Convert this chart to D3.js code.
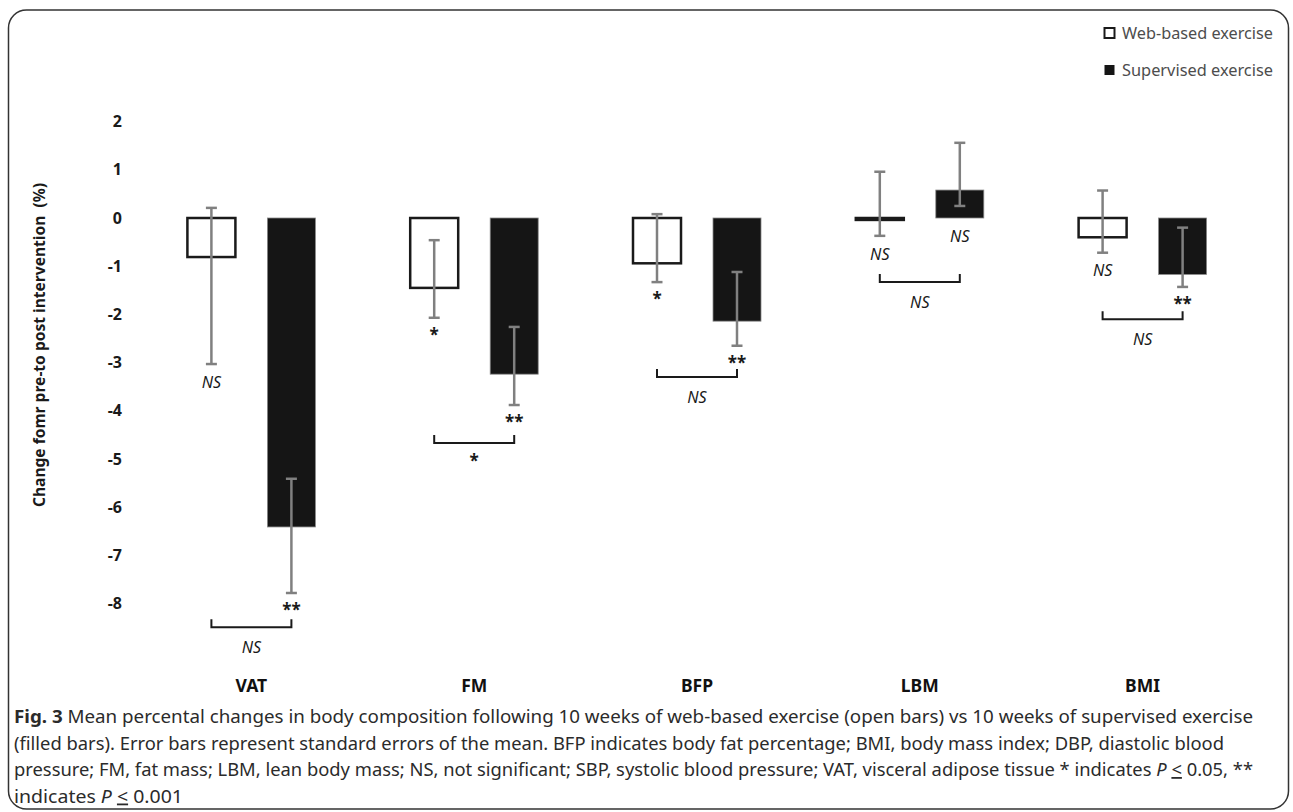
<!DOCTYPE html>
<html lang="en">

<head>
  <meta charset="utf-8">
  <title>Fig. 3</title>
  <script src="https://d3js.org/d3.v7.min.js" charset="utf-8"></script>
  <style type="text/css">
    body {
      margin: 0;
      background: #fff;
    }

    svg text {
      font-family: "Noto Sans", sans-serif;
      white-space: pre;
    }

    .tick text {
      font-size: 16px;
      font-weight: bold;
      fill: #1a1a1a;
    }
  </style>
</head>

<body>
  <script type="text/javascript">

    // values (% change, pre to post)
    var categories = ["VAT", "FM", "BFP", "LBM", "BMI"];
    var seriesNames = ["Web-based exercise", "Supervised exercise"];

    var webMean = [-0.81, -1.45, -0.94, -0.04, -0.40];
    var webErrHigh = [0.21, -0.46, 0.08, 0.96, 0.57];
    var webErrLow = [-3.03, -2.07, -1.33, -0.37, -0.72];

    var supMean = [-6.41, -3.24, -2.14, 0.58, -1.17];
    var supErrHigh = [-5.41, -2.26, -1.12, 1.56, -0.20];
    var supErrLow = [-7.78, -3.88, -2.65, 0.25, -1.43];

    var webSig = ["NS", "*", "*", "NS", "NS"];
    var supSig = ["**", "**", "**", "NS", "**"];
    var groupSig = ["NS", "*", "NS", "NS", "NS"];
    var bracketLevel = [-8.49, -4.67, -3.30, -1.33, -2.10];

    var yTicks = [2, 1, 0, -1, -2, -3, -4, -5, -6, -7, -8];
    var yTitle = "Change fomr pre-to post intervention  (%)";

    var captionLines = [
      [["Fig. 3", "b"], [" Mean percental changes in body composition following 10 weeks of web-based exercise (open bars) vs 10 weeks of supervised exercise", ""]],
      [["(filled bars). Error bars represent standard errors of the mean. BFP indicates body fat percentage; BMI, body mass index; DBP, diastolic blood", ""]],
      [["pressure; FM, fat mass; LBM, lean body mass; NS, not significant; SBP, systolic blood pressure; VAT, visceral adipose tissue * indicates ", ""], ["P", "i"], [" ", ""], ["<", "u"], [" 0.05, **", ""]],
      [["indicates ", ""], ["P", "i"], [" ", ""], ["<", "u"], [" 0.001", ""]]
    ];
    var captionWidths = [1239, 1210, 1239, 169];

    var W = 1293, H = 812;

    var svg = d3.select("body").append("svg")
      .attr("width", W)
      .attr("height", H);

    // frame
    svg.append("rect")
      .attr("x", 8.5).attr("y", 10)
      .attr("width", 1280).attr("height", 799)
      .attr("rx", 18)
      .attr("fill", "none")
      .attr("stroke", "#333")
      .attr("stroke-width", 1.5);

    var x = d3.scaleBand()
      .domain(categories)
      .range([140, 1254])
      .padding(0);

    var xSub = d3.scaleBand()
      .domain([0, 1])
      .range([-64, 64])
      .paddingInner(0.4);

    var y = d3.scaleLinear()
      .domain([2, -8])
      .range([121.6, 603.6]);

    var data = categories.map(function (c, i) {
      return {
        cat: c,
        series: [
          { s: 0, mean: webMean[i], hi: webErrHigh[i], lo: webErrLow[i], sig: webSig[i] },
          { s: 1, mean: supMean[i], hi: supErrHigh[i], lo: supErrLow[i], sig: supSig[i] }
        ],
        group: groupSig[i],
        level: bracketLevel[i]
      };
    });

    function cx(d) { return x(d) + x.bandwidth() / 2; }
    function sx(s) { return xSub(s) + xSub.bandwidth() / 2; }

    // y axis (labels only)
    var yAxis = svg.append("g")
      .attr("transform", "translate(128,0)")
      .call(d3.axisLeft(y).tickValues(yTicks).tickSize(0).tickPadding(6)
        .tickFormat(function (d) { return String(d); }));
    yAxis.select(".domain").remove();

    svg.append("text")
      .attr("transform", "translate(39,345) rotate(-90)")
      .attr("text-anchor", "middle")
      .attr("dy", "0.36em")
      .attr("font-size", 16)
      .attr("font-weight", "bold")
      .attr("fill", "#1a1a1a")
      .attr("textLength", 324)
      .attr("lengthAdjust", "spacingAndGlyphs")
      .text(yTitle);

    var groups = svg.selectAll(".grp")
      .data(data)
      .enter()
      .append("g")
      .attr("class", "grp")
      .attr("transform", function (d) { return "translate(" + cx(d.cat) + ",0)"; });

    // bars
    groups.selectAll("rect.bar")
      .data(function (d) { return d.series; })
      .enter()
      .append("rect")
      .attr("class", "bar")
      .attr("x", function (d) { return xSub(d.s); })
      .attr("width", xSub.bandwidth())
      .attr("y", function (d) { return y(Math.max(0, d.mean)); })
      .attr("height", function (d) { return Math.abs(y(d.mean) - y(0)); })
      .attr("fill", function (d) { return d.s === 0 ? "#fff" : "#151515"; })
      .attr("stroke", function (d) { return d.s === 0 ? "#1a1a1a" : "#888"; })
      .attr("stroke-width", function (d) { return d.s === 0 ? 2.5 : 0.8; });

    // error bars
    var eb = groups.selectAll("g.err")
      .data(function (d) { return d.series; })
      .enter()
      .append("g")
      .attr("class", "err")
      .attr("stroke", "#808080")
      .attr("stroke-width", 2.5);

    eb.append("line")
      .attr("x1", function (d) { return sx(d.s); })
      .attr("x2", function (d) { return sx(d.s); })
      .attr("y1", function (d) { return y(d.hi); })
      .attr("y2", function (d) { return y(d.lo); });

    ["hi", "lo"].forEach(function (k) {
      eb.append("line")
        .attr("x1", function (d) { return sx(d.s) - 5.5; })
        .attr("x2", function (d) { return sx(d.s) + 5.5; })
        .attr("y1", function (d) { return y(d[k]); })
        .attr("y2", function (d) { return y(d[k]); });
    });

    function sigText(sel, offNS, offStar) {
      sel.attr("text-anchor", "middle")
        .attr("fill", "#1a1a1a")
        .attr("font-style", function (d) { return d.t === "NS" ? "italic" : "normal"; })
        .attr("font-weight", function (d) { return d.t === "NS" ? "normal" : "bold"; })
        .attr("font-size", function (d) { return d.t === "NS" ? 16 : 17; })
        .attr("y", function (d) {
          return d.t === "NS" ? d.y + offNS + 5.7 : d.y + offStar + 10;
        })
        .text(function (d) { return d.t; });
    }

    // within-group significance
    groups.selectAll("text.sig")
      .data(function (d) {
        return d.series.map(function (s) {
          return { s: s.s, t: s.sig, y: y(Math.min(s.lo, s.mean, 0)) };
        });
      })
      .enter()
      .append("text")
      .attr("class", "sig")
      .attr("x", function (d) { return sx(d.s); })
      .call(sigText, 18, 13);

    // between-group brackets
    groups.append("path")
      .attr("d", function (d) {
        var x0 = sx(0), x1 = sx(1), yy = y(d.level);
        return "M" + x0 + "," + (yy - 8) + "V" + yy + "H" + x1 + "V" + (yy - 8);
      })
      .attr("fill", "none")
      .attr("stroke", "#1a1a1a")
      .attr("stroke-width", 2);

    groups.selectAll("text.grpsig")
      .data(function (d) { return [{ t: d.group, y: y(d.level) }]; })
      .enter()
      .append("text")
      .attr("class", "grpsig")
      .attr("x", 0)
      .call(sigText, 20, 14);

    // category labels
    svg.selectAll("text.cat")
      .data(categories)
      .enter()
      .append("text")
      .attr("class", "cat")
      .attr("x", function (d) { return cx(d); })
      .attr("y", 692)
      .attr("text-anchor", "middle")
      .attr("font-size", 17.5)
      .attr("font-weight", "bold")
      .attr("fill", "#111")
      .text(function (d) { return d; });

    // legend
    var leg = svg.selectAll("g.leg")
      .data(seriesNames)
      .enter()
      .append("g")
      .attr("class", "leg")
      .attr("transform", function (d, i) { return "translate(1104," + (33 + i * 37) + ")"; });

    leg.append("rect")
      .attr("x", 0.5).attr("y", -5)
      .attr("width", 10).attr("height", 10)
      .attr("fill", function (d, i) { return i === 0 ? "#fff" : "#151515"; })
      .attr("stroke", function (d, i) { return i === 0 ? "#1a1a1a" : "none"; })
      .attr("stroke-width", 2);

    leg.append("text")
      .attr("x", 18)
      .attr("dy", "0.36em")
      .attr("font-size", 15.5)
      .attr("fill", "#4d4d4d")
      .attr("textLength", 151)
      .attr("lengthAdjust", "spacingAndGlyphs")
      .text(function (d) { return d; });

    // caption
    var cap = svg.selectAll("text.cap")
      .data(captionLines)
      .enter()
      .append("text")
      .attr("class", "cap")
      .attr("x", 14)
      .attr("y", function (d, i) { return 723 + i * 26.5; })
      .attr("font-size", 18)
      .attr("fill", "#2b2b2b")
      .attr("textLength", function (d, i) { return captionWidths[i]; })
      .attr("lengthAdjust", "spacingAndGlyphs");

    cap.selectAll("tspan")
      .data(function (d) { return d; })
      .enter()
      .append("tspan")
      .attr("font-weight", function (d) { return d[1] === "b" ? "bold" : null; })
      .attr("font-style", function (d) { return d[1] === "i" ? "italic" : null; })
      .attr("text-decoration", function (d) { return d[1] === "u" ? "underline" : null; })
      .text(function (d) { return d[0]; });

  </script>
</body>

</html>
